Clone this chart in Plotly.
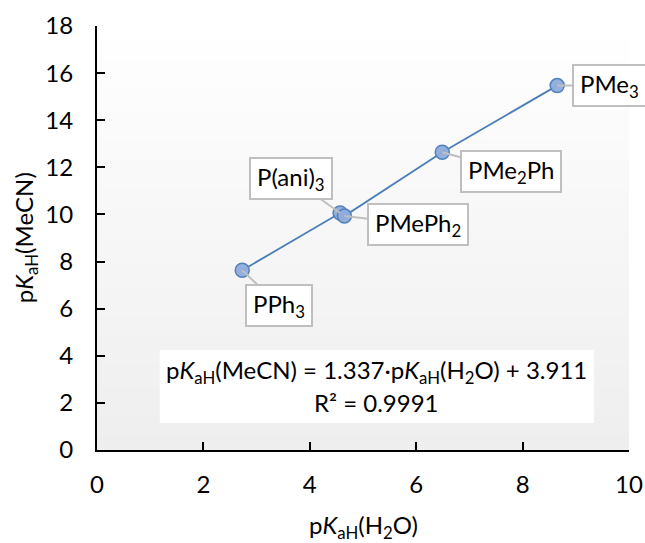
import plotly.graph_objects as go

# Data
ligands = ["PPh<sub>3</sub>", "P(ani)<sub>3</sub>", "PMePh<sub>2</sub>", "PMe<sub>2</sub>Ph", "PMe<sub>3</sub>"]
pka_h2o = [2.73, 4.57, 4.65, 6.49, 8.65]
pka_mecn = [7.63, 10.06, 9.93, 12.64, 15.47]
# label box offsets (pixels) relative to point
label_ax = [37, -49, 74, 69, 52]
label_ay = [35, -35, 8, 19, 0]

x_ticks = [0, 2, 4, 6, 8, 10]
y_ticks = [0, 2, 4, 6, 8, 10, 12, 14, 16, 18]

FONT = "Lato"
FS = 24

fig = go.Figure()
fig.add_trace(go.Scatter(
    x=pka_h2o, y=pka_mecn, mode="lines+markers",
    line=dict(color="#4a7ebb", width=1.8),
    marker=dict(size=14, color="rgba(143,172,220,0.95)", line=dict(color="#4f81bd", width=1.5)),
    showlegend=False, cliponaxis=False,
))

shapes = []
# vertical gradient background of plot area
N = 60
for i in range(N):
    t = (i + 0.5) / N  # 0 bottom, 1 top
    c = int(round(238 + (255 - 238) * t))
    shapes.append(dict(type="rect", xref="x domain", yref="y domain",
                       x0=0, x1=1, y0=i / N, y1=(i + 1) / N + 0.002,
                       fillcolor=f"rgb({c},{c},{c})", line=dict(width=0), layer="below"))
# equation box
shapes.append(dict(type="rect", xref="x", yref="y", x0=1.18, x1=9.34, y0=1.15, y1=4.25,
                   fillcolor="white", line=dict(width=0), layer="below"))

annotations = []
for name, x, y, ax, ay in zip(ligands, pka_h2o, pka_mecn, label_ax, label_ay):
    annotations.append(dict(
        x=x, y=y, xref="x", yref="y", text="\u2009" + name + "\u2009", showarrow=True,
        ax=ax, ay=ay, arrowhead=0, arrowwidth=2, arrowcolor="#bfbfbf",
        bgcolor="white", bordercolor="#bfbfbf", borderwidth=2, borderpad=3,
        font=dict(family=FONT, size=FS, color="black"), standoff=0,
    ))

annotations.append(dict(
    x=5.26, y=3.35, xref="x", yref="y", showarrow=False,
    text="p<i>K</i><sub>aH</sub>(MeCN) = 1.337·p<i>K</i><sub>aH</sub>(H<sub>2</sub>O) + 3.911",
    font=dict(family=FONT, size=FS, color="black")))
annotations.append(dict(
    x=5.26, y=2.0, xref="x", yref="y", showarrow=False,
    text="R² = 0.9991",
    font=dict(family=FONT, size=FS, color="black")))

# axis titles
annotations.append(dict(
    x=0.5, y=-0.18, xref="paper", yref="paper", yanchor="middle", showarrow=False,
    text="p<i>K</i><sub>aH</sub>(H<sub>2</sub>O)",
    font=dict(family=FONT, size=FS, color="black")))
annotations.append(dict(
    x=-0.135, y=0.5, xref="paper", yref="paper", xanchor="center", showarrow=False,
    text="p<i>K</i><sub>aH</sub>(MeCN)", textangle=-90,
    font=dict(family=FONT, size=FS, color="black")))

axis_common = dict(showgrid=False, zeroline=False, automargin=False,
                   showline=True, linecolor="black", linewidth=2,
                   ticks="inside", ticklen=8, tickwidth=2, tickcolor="black",
                   tickfont=dict(family=FONT, size=FS))

fig.update_layout(
    width=645, height=543,
    margin=dict(l=97, r=16, t=26, b=93, autoexpand=False),
    paper_bgcolor="white", plot_bgcolor="white",
    font=dict(family=FONT, size=FS, color="black"),
    shapes=shapes, annotations=annotations,
    xaxis=dict(range=[0, 10], tickvals=x_ticks, ticklabelstandoff=12, **axis_common),
    yaxis=dict(range=[0, 18], tickvals=y_ticks, ticklabelstandoff=17, **axis_common),
)

fig.write_html("out.html", config={"displayModeBar": False},
               post_script="document.body.style.margin='0';document.body.style.overflow='hidden';")
